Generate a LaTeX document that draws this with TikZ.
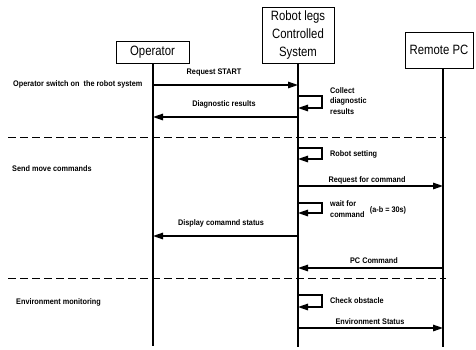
\documentclass[tikz,border=0pt]{standalone}
\usepackage{fontspec}
\usetikzlibrary{arrows.meta}
\newfontfamily\hdrfont[FakeStretch=0.84]{Liberation Sans}
\newfontfamily\lblfont[FakeStretch=0.9]{Liberation Sans}
\tikzset{
  head/.style={draw, line width=0.6pt, inner sep=0pt,
    font=\hdrfont\fontsize{13.5}{18}\selectfont, align=center},
  life/.style={line width=1.4pt},
  msg/.style={line width=1.4pt, -{Triangle[length=10pt,width=6.5pt]}},
  lbl/.style={font=\lblfont\bfseries\fontsize{8.1}{10.8}\selectfont, inner sep=0pt},
  sep/.style={line width=0.9pt, dash pattern=on 8pt off 4pt},
}
\begin{document}
\begin{tikzpicture}[x=1pt,y=-1pt]
\useasboundingbox (0,0) rectangle (476,349);

% participants
\node[head, minimum width=73pt, minimum height=22pt] (op) at (152.5,52) {Operator};
\node[head, minimum width=72pt, minimum height=56pt] (rb) at (298,35) {Robot legs\\Controlled\\System};
\node[head, minimum width=68pt, minimum height=36pt] (pc) at (439,50) {Remote PC};

% lifelines
\coordinate (opEnd) at (153,346);
\coordinate (rbEnd) at (298,347);
\coordinate (pcEnd) at (443,347);
\draw[life] (opEnd |- op.south) -- (opEnd);
\draw[life] (rb.south) -- (rbEnd);
\draw[life] (pcEnd |- pc.south) -- (pcEnd);

% section separators
\coordinate (s1a) at (8,137);  \coordinate (s1b) at (446,137);
\coordinate (s2a) at (8,278);  \coordinate (s2b) at (446,278);
\draw[sep] (s1a) -- (s1b);
\draw[sep] (s2a) -- (s2b);

% section captions
\node[lbl, anchor=west] (t1) at (13,84) {Operator switch on\ \ the robot system};
\node[lbl, anchor=west] (t2) at (12,169) {Send move commands};
\node[lbl, anchor=west] (t3) at (16,302) {Environment monitoring};

% messages: start-up
\coordinate (a1) at (153,85);  \coordinate (b1) at (298,85);
\draw[msg] (a1) -- (b1);
\node[lbl] (l1) at (214,73) {Request START};

\coordinate (c1) at (298,96); \coordinate (c2) at (322,96);
\coordinate (c3) at (322,108); \coordinate (c4) at (298,108);
\draw[msg] (c1) -- (c2) -- (c3) -- (c4);
\node[lbl, anchor=west, align=left] (l2) at (330,101) {Collect\\diagnostic\\results};

\coordinate (a2) at (298,117); \coordinate (b2) at (153,117);
\draw[msg] (a2) -- (b2);
\node[lbl] (l3) at (224,104) {Diagnostic results};

% messages: move commands
\coordinate (d1) at (298,148); \coordinate (d2) at (322,148);
\coordinate (d3) at (322,159); \coordinate (d4) at (298,159);
\draw[msg] (d1) -- (d2) -- (d3) -- (d4);
\node[lbl, anchor=west] (l4) at (330,154) {Robot setting};

\coordinate (a3) at (298,186); \coordinate (b3) at (443,186);
\draw[msg] (a3) -- (b3);
\node[lbl] (l5) at (367,180) {Request for command};

\coordinate (e1) at (298,203); \coordinate (e2) at (322,203);
\coordinate (e3) at (322,213); \coordinate (e4) at (298,213);
\draw[msg] (e1) -- (e2) -- (e3) -- (e4);
\node[lbl, anchor=west, align=left] (l6) at (330,209) {wait for\\command};
\node[lbl] (l7) at (388,210) {(a-b = 30s)};

\coordinate (a4) at (298,236); \coordinate (b4) at (153,236);
\draw[msg] (a4) -- (b4);
\node[lbl] (l8) at (221,223) {Display comamnd status};

\coordinate (a5) at (443,268); \coordinate (b5) at (298,268);
\draw[msg] (a5) -- (b5);
\node[lbl] (l9) at (374,261) {PC Command};

% messages: environment monitoring
\coordinate (f1) at (298,295); \coordinate (f2) at (322,295);
\coordinate (f3) at (322,307); \coordinate (f4) at (298,307);
\draw[msg] (f1) -- (f2) -- (f3) -- (f4);
\node[lbl, anchor=west] (l10) at (330,301) {Check obstacle};

\coordinate (a6) at (298,328); \coordinate (b6) at (443,328);
\draw[msg] (a6) -- (b6);
\node[lbl] (l11) at (370,322) {Environment Status};
\end{tikzpicture}
\end{document}
